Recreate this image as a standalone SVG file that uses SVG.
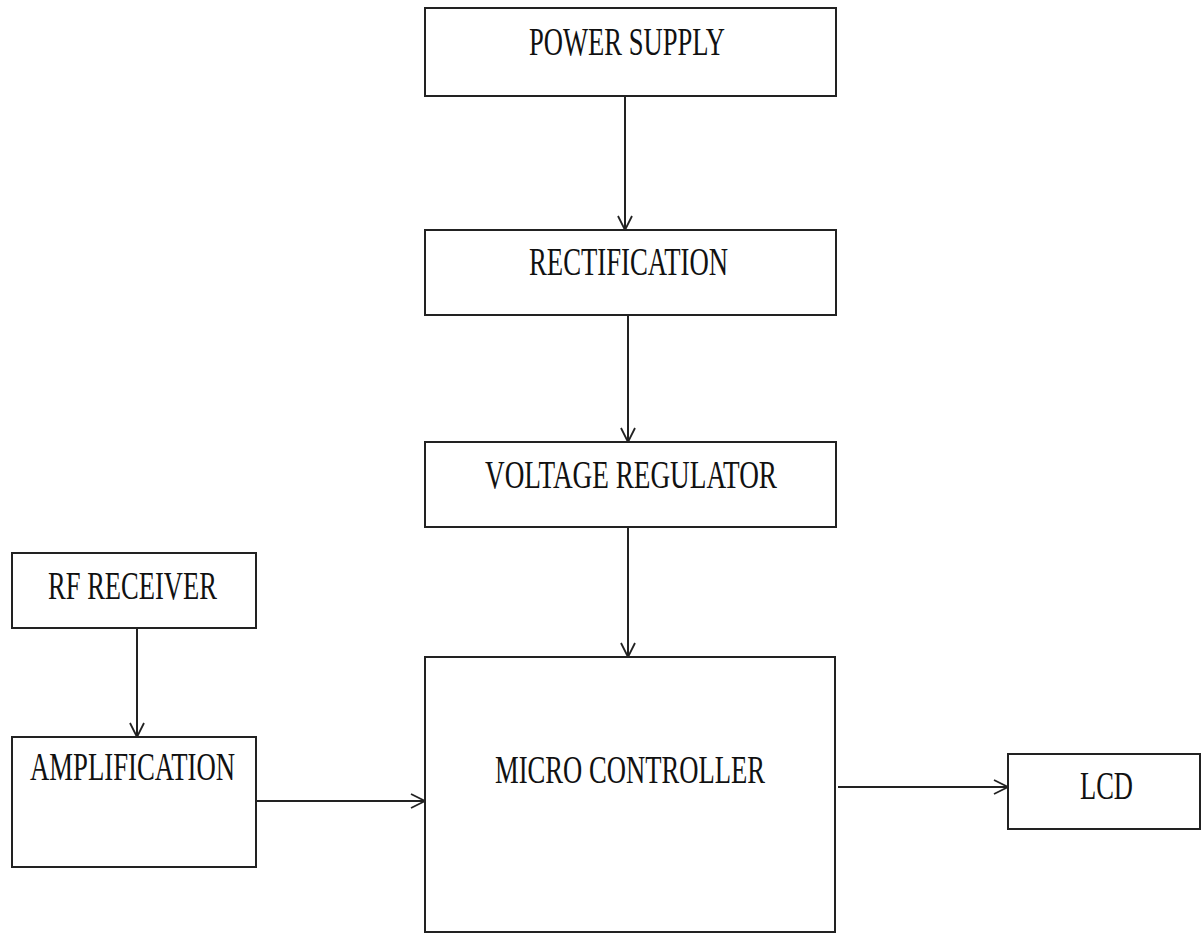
<svg xmlns="http://www.w3.org/2000/svg" width="1201" height="933" viewBox="0 0 1201 933">
<style>
.box{fill:#fff;stroke:#222;stroke-width:2}
.lbl{font-family:"Liberation Serif","Times New Roman",serif;font-size:39px;fill:#111}
.con{fill:none;stroke:#222;stroke-width:2}
</style>
<defs>
<marker id="arr" markerUnits="userSpaceOnUse" viewBox="0 0 16 16" refX="15" refY="8" markerWidth="16" markerHeight="16" orient="auto">
<path d="M1,1 L15,8 L1,15" fill="none" stroke="#222" stroke-width="1.8"/>
</marker>
</defs>
<rect width="1201" height="933" fill="#fff"/>
<g id="power-supply">
<rect class="box" x="425" y="8" width="411" height="88"/>
<text class="lbl" x="529" y="55" textLength="196" lengthAdjust="spacingAndGlyphs">POWER SUPPLY</text>
</g>
<g id="rectification">
<rect class="box" x="425" y="230" width="411" height="85"/>
<text class="lbl" x="529" y="275" textLength="199" lengthAdjust="spacingAndGlyphs">RECTIFICATION</text>
</g>
<g id="voltage-regulator">
<rect class="box" x="425" y="442" width="411" height="85"/>
<text class="lbl" x="485" y="488" textLength="292" lengthAdjust="spacingAndGlyphs">VOLTAGE REGULATOR</text>
</g>
<g id="micro-controller">
<rect class="box" x="425" y="657" width="410" height="275"/>
<text class="lbl" x="495" y="783" textLength="270" lengthAdjust="spacingAndGlyphs">MICRO CONTROLLER</text>
</g>
<g id="rf-receiver">
<rect class="box" x="12" y="553" width="244" height="75"/>
<text class="lbl" x="48" y="599" textLength="169" lengthAdjust="spacingAndGlyphs">RF RECEIVER</text>
</g>
<g id="amplification">
<rect class="box" x="12" y="737" width="244" height="130"/>
<text class="lbl" x="30" y="780" textLength="205" lengthAdjust="spacingAndGlyphs">AMPLIFICATION</text>
</g>
<g id="lcd">
<rect class="box" x="1008" y="754" width="192" height="75"/>
<text class="lbl" x="1080" y="799" textLength="53" lengthAdjust="spacingAndGlyphs">LCD</text>
</g>
<g id="connectors">
<line class="con" x1="625" y1="96" x2="625" y2="230" marker-end="url(#arr)"/>
<line class="con" x1="628" y1="315" x2="628" y2="442" marker-end="url(#arr)"/>
<line class="con" x1="628" y1="527" x2="628" y2="657" marker-end="url(#arr)"/>
<line class="con" x1="137" y1="628" x2="137" y2="737" marker-end="url(#arr)"/>
<line class="con" x1="256" y1="801" x2="425" y2="801" marker-end="url(#arr)"/>
<line class="con" x1="838" y1="787" x2="1008" y2="787" marker-end="url(#arr)"/>
</g>
</svg>
